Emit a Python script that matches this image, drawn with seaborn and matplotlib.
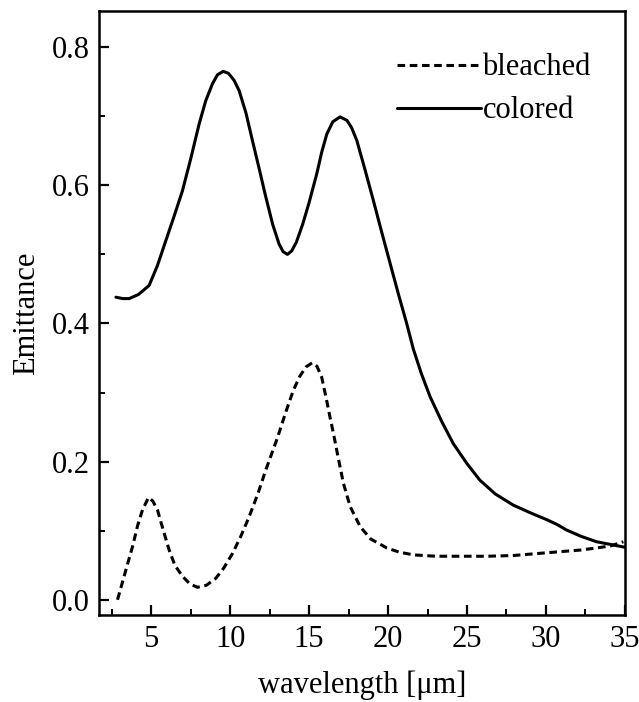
import pandas as pd
import matplotlib
matplotlib.use("Agg")
import matplotlib.pyplot as plt
import seaborn as sns
from matplotlib.ticker import MultipleLocator

# data
wl_colored = [2.77, 3.2, 3.61, 4.2, 4.87, 5.4, 5.93, 6.45, 6.98, 7.5, 8.04, 8.45, 8.88, 9.2, 9.56,
              9.9, 10.25, 10.57, 11.0, 11.41, 11.85, 12.26, 12.7, 13.1, 13.35, 13.63, 13.9, 14.2,
              14.6, 15.0, 15.49, 15.8, 16.12, 16.5, 16.96, 17.4, 17.7, 18.02, 18.5, 19.07, 19.6,
              20.13, 20.65, 21.18, 21.6, 22.1, 22.66, 23.4, 24.13, 25.0, 25.82, 26.8, 27.93, 29.0,
              30.04, 30.7, 31.3, 32.2, 33.2, 34.1, 35.0]
em_colored = [0.438, 0.436, 0.436, 0.442, 0.455, 0.484, 0.520, 0.555, 0.592, 0.638, 0.689, 0.722, 0.747, 0.760, 0.765,
              0.762, 0.752, 0.737, 0.705, 0.665, 0.623, 0.583, 0.543, 0.515, 0.504, 0.500, 0.505, 0.518,
              0.544, 0.575, 0.617, 0.648, 0.674, 0.692, 0.699, 0.694, 0.683, 0.665, 0.626, 0.578, 0.532,
              0.487, 0.443, 0.400, 0.363, 0.328, 0.294, 0.258, 0.226, 0.197, 0.173, 0.153, 0.137, 0.126,
              0.116, 0.109, 0.101, 0.092, 0.084, 0.080, 0.076]

wl_bleached = [2.87, 3.3, 3.82, 4.15, 4.45, 4.83, 5.1, 5.40, 5.75, 6.14, 6.5, 6.98, 7.45, 7.93, 8.5,
               9.09, 9.6, 10.15, 10.7, 11.2, 11.75, 12.26, 12.99, 13.5, 14.0, 14.4, 14.8, 15.2, 15.5,
               15.8, 16.1, 16.3, 16.54, 16.85, 17.17, 17.6, 18.23, 18.9, 19.92, 20.7, 21.6, 23.0,
               24.7, 26.3, 27.9, 29.5, 31.1, 32.2, 33.2, 34.1, 34.9]
em_bleached = [0.0, 0.035, 0.077, 0.108, 0.130, 0.148, 0.143, 0.130, 0.102, 0.072, 0.050, 0.034, 0.023, 0.018, 0.021,
               0.031, 0.046, 0.067, 0.093, 0.120, 0.153, 0.188, 0.234, 0.270, 0.303, 0.323, 0.337, 0.343, 0.338,
               0.322, 0.290, 0.267, 0.241, 0.205, 0.169, 0.135, 0.106, 0.088, 0.075, 0.069, 0.065, 0.063,
               0.063, 0.063, 0.064, 0.067, 0.070, 0.072, 0.075, 0.078, 0.084]

series = ["bleached", "colored"]

df = pd.concat([
    pd.DataFrame({"wl": wl_bleached, "em": em_bleached, "sample": "bleached"}),
    pd.DataFrame({"wl": wl_colored, "em": em_colored, "sample": "colored"}),
])

sns.set_style("ticks")
plt.rcParams["font.family"] = ["Liberation Serif", "DejaVu Serif"]
for k in ["text.color", "axes.labelcolor", "xtick.color", "ytick.color", "axes.edgecolor"]:
    plt.rcParams[k] = "black"

fig = plt.figure(figsize=(6.39, 7.02), dpi=100)
ax = fig.add_axes([0.155, 0.124, 0.823, 0.86])

sns.lineplot(data=df, x="wl", y="em", style="sample", style_order=series,
             dashes={"bleached": (2.5, 1.5), "colored": ""}, color="black",
             linewidth=2.2, sort=False, estimator=None, ax=ax)

ax.set_xlim(1.7, 35)
ax.set_ylim(-0.022, 0.852)
ax.xaxis.set_minor_locator(MultipleLocator(2.5))
ax.yaxis.set_minor_locator(MultipleLocator(0.1))
ax.set_xticks([5, 10, 15, 20, 25, 30, 35])
ax.set_yticks([0.0, 0.2, 0.4, 0.6, 0.8])
ax.set_yticklabels(["0.0", "0.2", "0.4", "0.6", "0.8"])

ax.tick_params(which="major", direction="in", length=7, width=1.6, labelsize=22)
ax.tick_params(axis="y", which="major", pad=6.5)
ax.tick_params(axis="x", which="major", pad=7)
ax.tick_params(which="minor", direction="in", length=4, width=1.4)
for s in ax.spines.values():
    s.set_visible(True)
    s.set_linewidth(1.8)

ax.set_xlabel("wavelength [μm]", fontsize=22, labelpad=12)
ax.set_ylabel("Emittance", fontsize=22, labelpad=8)

leg = ax.legend(loc="upper right", bbox_to_anchor=(0.935, 0.93), frameon=False, fontsize=22,
                handlelength=2.75, handletextpad=0.05, labelspacing=0.45,
                borderpad=0, borderaxespad=0)
for line in leg.get_lines():
    line.set_linewidth(2.2)

fig.savefig("out.png", dpi=100)
